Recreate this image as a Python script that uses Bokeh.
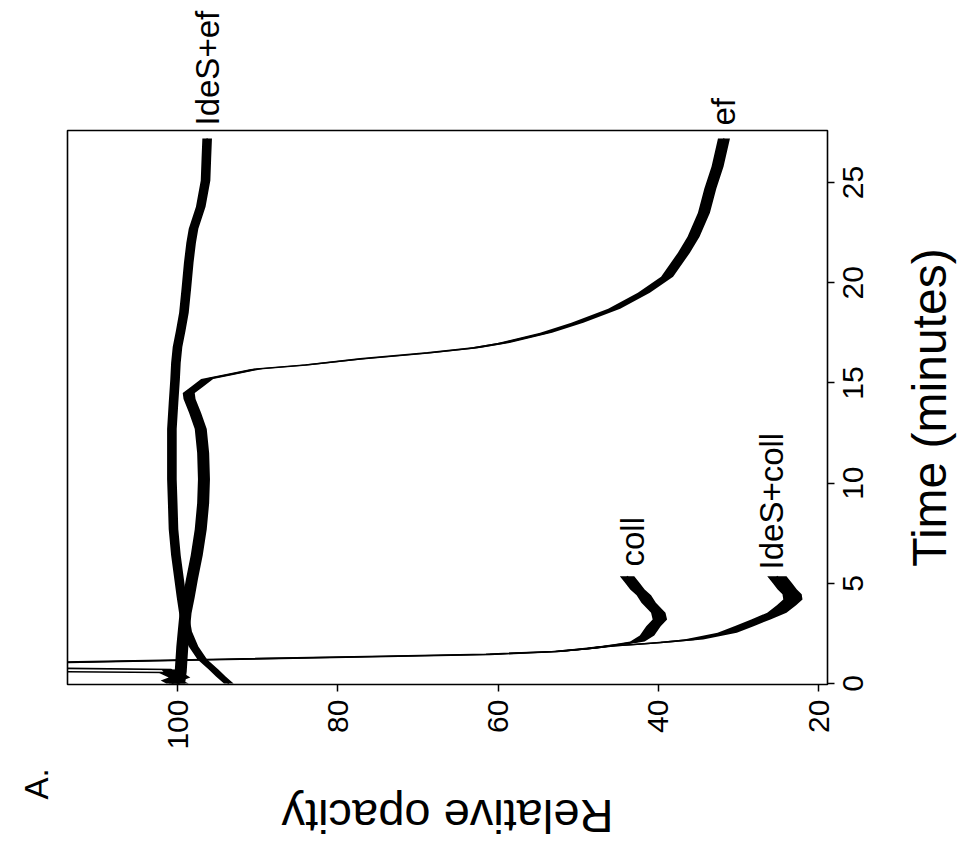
from bokeh.plotting import figure
from bokeh.models import Range1d, FixedTicker, Label, ColumnDataSource, LinearAxis
from bokeh.embed import file_html
from bokeh.resources import INLINE

# ---- data (time in minutes, relative opacity) ----
ides_ef_time = [0.0, 0.35, 0.7, 1.2, 1.85, 2.6, 3.5, 4.3, 5.2, 6.4, 7.7, 9.0, 10.2, 11.5, 12.7,
                14.0, 15.2, 16.0, 16.8, 17.6, 18.5, 19.7, 21.0, 22.0, 22.7, 23.8, 25.1, 26.2, 27.2]
ides_ef_op = [93.6, 94.6, 95.5, 96.9, 98.0, 98.8, 99.2, 99.5, 99.8, 100.2, 100.5, 100.6, 100.7, 100.7, 100.7,
              100.5, 100.3, 100.2, 100.0, 99.6, 99.2, 98.9, 98.6, 98.3, 98.0, 97.1, 96.5, 96.4, 96.3]

ef_time = [0.0, 0.6, 1.85, 2.7, 3.5, 4.3, 5.2, 6.4, 7.7, 9.0, 10.2, 11.5, 12.7, 13.5, 14.2, 14.5, 14.8,
           15.2, 15.4, 15.7, 15.9, 16.2, 16.5, 16.75, 17.0, 17.5, 18.0, 18.7, 19.5, 20.3, 21.5, 22.3,
           23.5, 24.7, 25.8, 27.2]
ef_op = [99.8, 99.6, 99.4, 99.2, 99.0, 98.6, 98.2, 97.6, 97.1, 96.8, 96.7, 96.8, 97.1, 97.8, 98.5, 98.6, 97.6,
         96.3, 93.8, 90.1, 84.0, 77.2, 68.8, 63.0, 59.3, 54.0, 50.1, 45.5, 41.8, 38.9, 36.8, 35.6,
         34.3, 33.5, 32.6, 31.8]

coll_time = [0.0, 0.15, 0.3, 0.45, 0.55, 0.6, 1.0, 1.05, 1.2, 1.35, 1.45, 1.6, 1.75, 1.86, 1.97,
             2.1, 2.4, 2.86, 3.2, 3.53, 4.03, 4.4, 4.69, 5.0, 5.35]
coll_op = [100.5, 101.2, 100.2, 101.0, 101.5, 120.0, 120.0, 113.7, 94.0, 74.0, 61.0, 52.5, 48.5, 46.5, 44.5,
           42.6, 41.4, 40.6, 39.8, 40.0, 41.2, 41.8, 42.6, 43.2, 43.9]

ides_coll_time = [0.0, 0.15, 0.3, 0.5, 0.7, 0.78, 1.02, 1.08, 1.22, 1.36, 1.46, 1.6, 1.75, 1.86, 1.95,
                  2.05, 2.2, 2.53, 2.86, 3.2, 3.53, 3.9, 4.19, 4.45, 4.69, 5.0, 5.35]
ides_coll_op = [99.8, 100.6, 99.6, 100.4, 100.8, 120.0, 120.0, 112.5, 93.0, 74.5, 61.5, 52.8, 48.8, 46.3, 43.0,
                39.7, 35.6, 31.4, 29.3, 27.2, 25.2, 24.0, 23.2, 23.3, 23.9, 24.5, 25.2]

series_labels = ["IdeS+ef", "ef", "coll", "IdeS+coll"]
time_ticks = [0, 5, 10, 15, 20, 25]
opacity_ticks = [20, 40, 60, 80, 100]

# ---- styling ----
FONT = "Liberation Sans"
noise = {"IdeS+ef": 0.6, "ef": 0.75, "coll": 0.9, "IdeS+coll": 1.2}

# The figure is drawn in its natural orientation (time along x, opacity along y)
# and the page turns it a quarter turn counter-clockwise, as in the reference scan.
# Bokeh measures the turned box (968 x 846), so the drawing itself is 846 wide, 968 tall.
p = figure(width=968, height=846, output_backend="svg", toolbar_location=None,
           x_range=Range1d(-0.05, 27.6), y_range=Range1d(18.88, 113.73),
           min_border_left=161, min_border_right=131, min_border_top=67, min_border_bottom=141,
           title="A.")
p.styles = {"position": "absolute", "left": "0px", "top": "0px",
            "transform": "translate(0px, 846px) rotate(-90deg)", "transform-origin": "0 0"}
p.grid.visible = False
p.background_fill_color = "white"
p.border_fill_color = "white"
p.outline_line_color = "black"
p.outline_line_width = 1.6

p.title.align = "left"
p.title.offset = -115
p.title.standoff = 26
p.title.text_font = FONT
p.title.text_font_size = "33px"
p.title.text_font_style = "normal"
p.title.text_color = "black"

data = {
    "IdeS+ef": (ides_ef_time, ides_ef_op),
    "ef": (ef_time, ef_op),
    "coll": (coll_time, coll_op),
    "IdeS+coll": (ides_coll_time, ides_coll_op),
}
for name in series_labels:
    t, o = data[name]
    w = noise[name]
    src = ColumnDataSource(dict(t=t, op=o, lo=[v - w for v in o], hi=[v + w for v in o]))
    p.varea(x="t", y1="lo", y2="hi", source=src, fill_color="black", fill_alpha=1.0)
    p.line(x="t", y="op", source=src, line_color="black", line_width=1.6)

# axes
xa = p.xaxis[0]
xa.ticker = FixedTicker(ticks=time_ticks)
xa.axis_label = "Time (minutes)"
xa.axis_label_standoff = 37
xa.axis_label_text_font_size = "48px"
ya = p.yaxis[0]
ya.ticker = FixedTicker(ticks=opacity_ticks)
ya.axis_label = "Relative opacity"
ya.axis_label_standoff = 37
ya.axis_label_text_font_size = "47px"
for ax in (xa, ya):
    ax.axis_line_color = None
    ax.major_tick_line_color = "black"
    ax.major_tick_line_width = 1.5
    ax.major_tick_out = 7
    ax.major_tick_in = 0
    ax.minor_tick_line_color = None
    ax.major_label_text_font = FONT
    ax.major_label_text_font_size = "30px"
    ax.major_label_text_color = "black"
    ax.major_label_standoff = 8
    ax.axis_label_text_font = FONT
    ax.axis_label_text_font_style = "normal"
    ax.axis_label_text_color = "black"

# labels of the two curves that end at the right edge
end_axis = LinearAxis(ticker=FixedTicker(ticks=[ides_ef_op[-1], ef_op[-1]]),
                      major_label_overrides={ides_ef_op[-1]: series_labels[0], ef_op[-1]: series_labels[1]})
end_axis.axis_line_color = None
end_axis.major_tick_line_color = None
end_axis.minor_tick_line_color = None
end_axis.major_tick_out = 0
end_axis.major_tick_in = 0
end_axis.major_label_standoff = 5
end_axis.major_label_text_font = FONT
end_axis.major_label_text_font_size = "33px"
end_axis.major_label_text_color = "black"
p.add_layout(end_axis, "right")

# labels of the two curves that end inside the panel
p.add_layout(Label(x=5.84, y=coll_op[-1] - 0.7, text=series_labels[2], text_align="left",
                   text_baseline="middle", text_font=FONT, text_font_size="33px", text_color="black"))
p.add_layout(Label(x=5.69, y=ides_coll_op[-1] + 0.7, text=series_labels[3], text_align="left",
                   text_baseline="middle", text_font=FONT, text_font_size="33px", text_color="black"))

open("out.html", "w").write(file_html(p, INLINE))
